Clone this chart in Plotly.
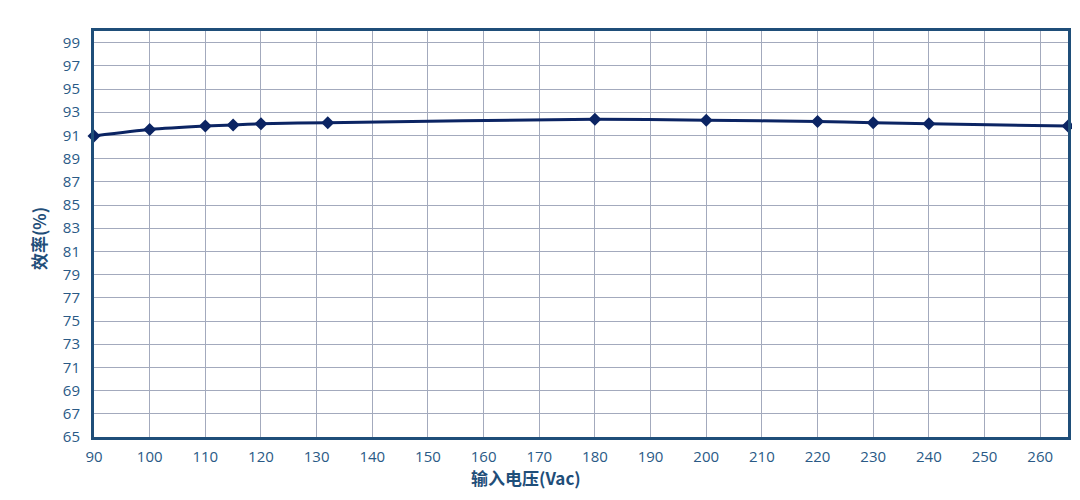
import plotly.graph_objects as go

voltage = [90, 100, 110, 115, 120, 132, 180, 200, 220, 230, 240, 265]
efficiency = [90.95, 91.5, 91.8, 91.9, 92.0, 92.1, 92.4, 92.3, 92.2, 92.1, 92.0, 91.8]
x_ticks = list(range(90, 261, 10))
y_ticks = list(range(65, 100, 2))

fig = go.Figure()
fig.add_trace(go.Scatter(
    x=voltage, y=efficiency, mode="lines+markers",
    line=dict(color="#0b2463", width=3, shape="spline", smoothing=0.6),
    marker=dict(symbol="diamond", size=10, color="#0b2463"),
    cliponaxis=False, showlegend=False,
))

tick_font = dict(family="Open Sans, Lato, sans-serif", size=15, color="#2a5a86")
title_font = dict(family="Noto Sans CJK SC, sans-serif", size=17, color="#1f4e79")

# page body has an 8px margin, so the figure is sized to fit the 1080x500 window
fig.update_layout(
    width=1064, height=484,
    margin=dict(l=86, r=4, t=23, b=55),
    plot_bgcolor="white", paper_bgcolor="white",
    xaxis=dict(
        range=[90, 265], tickvals=x_ticks, ticktext=[str(v) for v in x_ticks],
        showgrid=True, gridcolor="#a3aabd", gridwidth=1,
        showline=True, linecolor="#1f4e79", linewidth=3, mirror=True,
        ticks="", tickfont=tick_font, zeroline=False, automargin=False,
        ticklabelstandoff=4,
    ),
    yaxis=dict(
        range=[65, 100], tickvals=y_ticks, ticktext=[str(v) for v in y_ticks],
        showgrid=True, gridcolor="#a3aabd", gridwidth=1,
        showline=True, linecolor="#1f4e79", linewidth=3, mirror=True,
        ticks="", tickfont=tick_font, zeroline=False, automargin=False,
        ticklabelstandoff=8,
    ),
    annotations=[
        dict(text="<b>输入电压(Vac)</b>", xref="paper", yref="paper",
             x=0.4435, y=-0.1, xanchor="center", yanchor="middle",
             showarrow=False, font=title_font),
        dict(text="<b>效率(%)</b>", xref="paper", yref="paper",
             x=-0.0575, y=0.49, xanchor="center", yanchor="middle",
             textangle=-90, showarrow=False, font=title_font),
    ],
)

fig.write_html("out.html")
